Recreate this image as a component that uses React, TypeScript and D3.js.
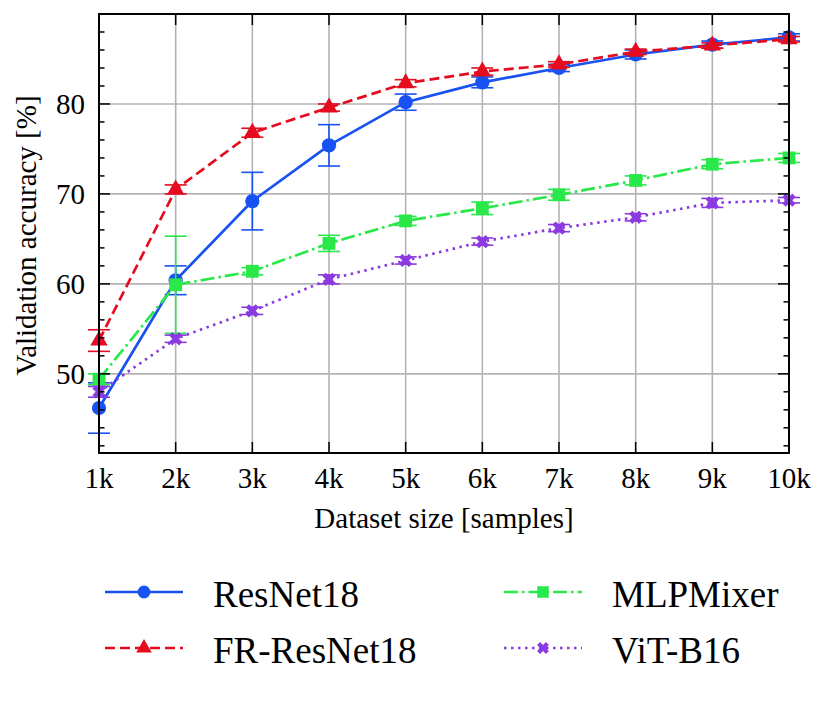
import * as d3 from "d3";

const sizes = [1000, 2000, 3000, 4000, 5000, 6000, 7000, 8000, 9000, 10000];
const tickLabels = ["1k", "2k", "3k", "4k", "5k", "6k", "7k", "8k", "9k", "10k"];

const resnetMean = [46.2, 60.4, 69.2, 75.4, 80.2, 82.4, 84.0, 85.5, 86.6, 87.4];
const resnetErr = [2.8, 1.6, 3.2, 2.3, 0.9, 0.6, 0.4, 0.5, 0.4, 0.4];
const frMean = [53.7, 70.5, 76.8, 79.6, 82.3, 83.6, 84.4, 85.8, 86.5, 87.2];
const frErr = [1.2, 0.5, 0.5, 0.4, 0.4, 0.4, 0.3, 0.3, 0.3, 0.3];
const mlpMean = [49.4, 59.9, 61.4, 64.5, 67.0, 68.4, 69.9, 71.5, 73.3, 74.0];
const mlpErr = [0.6, 5.4, 0.4, 0.9, 0.5, 0.7, 0.6, 0.5, 0.5, 0.5];
const vitMean = [48.0, 53.9, 57.0, 60.5, 62.6, 64.7, 66.2, 67.4, 69.0, 69.3];
const vitErr = [0.6, 0.4, 0.4, 0.5, 0.4, 0.4, 0.4, 0.4, 0.5, 0.3];

const yMajor = [50, 60, 70, 80];

type Series = {
  name: string;
  mean: number[];
  err: number[];
  color: string;
  dash: string;
  symbol: d3.SymbolType;
  size: number;
  rotate: number;
};

const series: Series[] = [
  { name: "ResNet18", mean: resnetMean, err: resnetErr, color: "#1852f2", dash: "none", symbol: d3.symbolCircle, size: 160, rotate: 0 },
  { name: "FR-ResNet18", mean: frMean, err: frErr, color: "#e40c1e", dash: "10,5", symbol: d3.symbolTriangle, size: 130, rotate: 0 },
  { name: "MLPMixer", mean: mlpMean, err: mlpErr, color: "#2ae849", dash: "14,4,2.5,4", symbol: d3.symbolSquare, size: 165, rotate: 0 },
  { name: "ViT-B16", mean: vitMean, err: vitErr, color: "#8a3ae0", dash: "2.5,4.5", symbol: d3.symbolCross, size: 110, rotate: 45 },
];

const width = 830;
const height = 720;
const left = 99;
const right = 789;
const top = 14;
const bottom = 453;
const serif = { fontFamily: "Liberation Serif, Times New Roman, Times, DejaVu Serif, serif" };

export default function App() {
  const x = d3.scaleLinear([1000, 10000], [left, right]);
  const y = d3.scaleLinear([41.2, 90], [bottom, top]);
  const yMinor = d3.range(42, 90.01, 2).filter((v) => !yMajor.includes(v));
  const line = d3
    .line<number>()
    .x((_d, i) => x(sizes[i]))
    .y((d) => y(d));

  const legendRows = [
    { s: series[0], lx: 105, ly: 592 },
    { s: series[1], lx: 105, ly: 648 },
    { s: series[2], lx: 504, ly: 592 },
    { s: series[3], lx: 504, ly: 648 },
  ];

  return (
    <svg width={width} height={height} style={{ position: "absolute", left: 0, top: 0, background: "white" }}>
      <rect x={0} y={0} width={width} height={height} fill="white" />
      {/* grid */}
      <g stroke="#b3b3b3" strokeWidth={1.6}>
        {sizes.map((s) => (
          <line key={s} x1={x(s)} x2={x(s)} y1={top} y2={bottom} />
        ))}
        {yMajor.map((v) => (
          <line key={v} x1={left} x2={right} y1={y(v)} y2={y(v)} />
        ))}
      </g>

      {/* series */}
      {series.map((s) => (
        <g key={s.name}>
          <path
            d={line(s.mean) || ""}
            fill="none"
            stroke={s.color}
            strokeWidth={2.7}
            strokeDasharray={s.dash}
          />
          <g stroke={s.color} strokeWidth={1.6}>
            {s.mean.map((m, i) => {
              const cx = x(sizes[i]);
              return (
                <g key={i}>
                  <line x1={cx} x2={cx} y1={y(m - s.err[i])} y2={y(m + s.err[i])} />
                  <line x1={cx - 11} x2={cx + 11} y1={y(m - s.err[i])} y2={y(m - s.err[i])} />
                  <line x1={cx - 11} x2={cx + 11} y1={y(m + s.err[i])} y2={y(m + s.err[i])} />
                </g>
              );
            })}
          </g>
          <g fill={s.color}>
            {s.mean.map((m, i) => (
              <path
                key={i}
                d={d3.symbol(s.symbol, s.size)() || ""}
                transform={`translate(${x(sizes[i])},${y(m)}) rotate(${s.rotate})`}
              />
            ))}
          </g>
        </g>
      ))}

      {/* frame and ticks */}
      <g stroke="black" strokeWidth={1.5}>
        {sizes.map((s) => (
          <g key={s}>
            <line x1={x(s)} x2={x(s)} y1={bottom} y2={bottom - 11} />
            <line x1={x(s)} x2={x(s)} y1={top} y2={top + 11} />
          </g>
        ))}
        {yMajor.map((v) => (
          <g key={v}>
            <line x1={left} x2={left + 11} y1={y(v)} y2={y(v)} />
            <line x1={right} x2={right - 11} y1={y(v)} y2={y(v)} />
          </g>
        ))}
        {yMinor.map((v) => (
          <g key={v}>
            <line x1={left} x2={left + 5.5} y1={y(v)} y2={y(v)} />
            <line x1={right} x2={right - 5.5} y1={y(v)} y2={y(v)} />
          </g>
        ))}
        <rect x={left} y={top} width={right - left} height={bottom - top} fill="none" strokeWidth={2} />
      </g>

      {/* tick labels */}
      <g style={serif} fontSize={29} fill="black">
        {sizes.map((s, i) => (
          <text key={s} x={x(s)} y={488} textAnchor="middle">
            {tickLabels[i]}
          </text>
        ))}
        {yMajor.map((v) => (
          <text key={v} x={85} y={y(v)} dy="0.34em" textAnchor="end">
            {v}
          </text>
        ))}
        <text x={(left + right) / 2} y={528} textAnchor="middle">
          Dataset size [samples]
        </text>
        <text transform={`translate(36,${(top + bottom) / 2 + 2}) rotate(-90)`} textAnchor="middle">
          Validation accuracy [%]
        </text>
      </g>

      {/* legend */}
      <g style={serif} fontSize={37}>
        {legendRows.map(({ s, lx, ly }) => (
          <g key={s.name}>
            <line
              x1={lx}
              x2={lx + 78}
              y1={ly}
              y2={ly}
              stroke={s.color}
              strokeWidth={2.7}
              strokeDasharray={s.dash}
            />
            <path
              d={d3.symbol(s.symbol, s.size * 0.8)() || ""}
              transform={`translate(${lx + 39},${ly}) rotate(${s.rotate})`}
              fill={s.color}
            />
            <text x={lx + 108} y={ly + 15} fill="black">
              {s.name}
            </text>
          </g>
        ))}
      </g>
    </svg>
  );
}
